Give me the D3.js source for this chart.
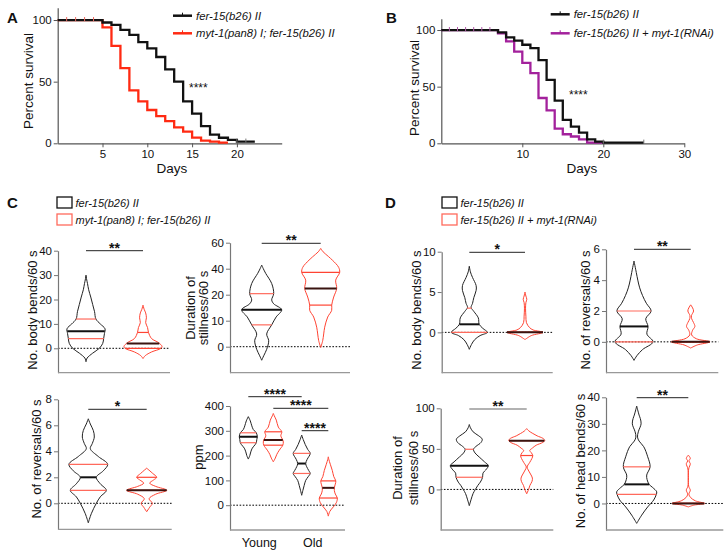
<!DOCTYPE html>
<html><head><meta charset="utf-8">
<script src="https://cdn.jsdelivr.net/npm/d3@7"></script>
<style>body{margin:0;background:#fff} svg{display:block} text{font-family:"Liberation Sans",Arial,sans-serif;fill:#111}</style>
</head><body><svg id="c" width="727" height="555"></svg>
<script>
// ---------------- DATA ----------------
// Panel A survival (days, percent survival)
const survA_days_ctrl = [0,5,6,7,8,9,10,11,12,13,14,15,16,17,18,19,20,22];
const survA_ctrl      = [100,98,96,92,88,82,77,70,60,50,34,24,14,7,4.5,2.7,1.4,1.4];
const survA_days_myt  = [0,5,6,7,8,9,10,11,12,13,14,15,16,17,18,19];
const survA_myt       = [100,94,79,61,43,34,27,22,18,13,9.5,4.6,2.2,1.4,0.5,0.5];
const censorA_start = [1,2,3,4];
const censorA_tail  = [20,21];
// Panel B survival
const survB_days_ctrl = [0,7,8,9,10,11,12,13,14,15,16,17,18,19,20,25];
const survB_ctrl      = [100,98,93.5,90.6,87,84,73.5,56,37.6,20.6,14.7,9.4,3.5,1.5,0.6,0.6];
const survB_days_rnai = [0,7,8,9,10,11,12,13,14,15,16,17,18,20];
const survB_rnai      = [100,97,90,81,71,62,40,29,13,8,6,3.5,0.6,0.6];
const censorB_start = [1,2,3,4,5,6];
const censorB_tail  = [20,25];
const survTicksA = [5,10,15,20];
const survTicksB = [10,20,30];
const survYTicks = [0,50,100];

// Legends
const legendA = ["fer-15(b26) II","myt-1(pan8) I; fer-15(b26) II"];
const legendB = ["fer-15(b26) II","fer-15(b26) II + myt-1(RNAi)"];

// Violin profiles: [value, relative density]; stats: [q1, median, q3]
const vC1ctrl = [[-5.5,0],[-4,0.06],[-2,0.35],[0,0.7],[2,0.88],[4,0.93],[6,0.97],[8,1],[10,0.75],[12,0.52],[15,0.45],[18,0.35],[21,0.25],[24,0.14],[26.5,0.08],[28,0.04],[30,0]];
const vC1myt  = [[-4.2,0],[-3,0.12],[-1.5,0.45],[0,0.95],[0.8,1],[2.3,0.82],[4,0.45],[6.5,0.29],[8.5,0.24],[10.5,0.14],[12.5,0.18],[14.5,0.14],[16,0.06],[17.7,0]];
const sC1 = [[4,7,12],[0,2,6.5]];
const vC2ctrl = [[-5.2,0],[-3.5,0.1],[-1,0.25],[2.3,0.35],[4.9,0.25],[8.4,0.5],[11.4,0.72],[14.2,1],[16.5,0.6],[18,0.5],[20.4,0.6],[24.3,0.5],[28.2,0.2],[30,0.08],[31.4,0]];
const vC2myt  = [[-0.3,0],[2.3,0.1],[4.9,0.15],[7.5,0.2],[11.4,0.35],[14,0.55],[16,0.55],[19.1,0.65],[22.4,0.8],[25.6,0.75],[28.6,0.95],[30.5,0.9],[32,0.75],[34.6,0.4],[36.5,0.12],[37.8,0]];
const sC2 = [[8.4,14.2,20.4],[16,22.4,28.6]];
const vC3ctrl = [[-1.5,0],[-0.8,0.15],[0,0.4],[0.5,0.6],[1,0.9],[1.5,0.6],[2,0.4],[2.5,0.75],[3,0.97],[3.6,0.5],[4.2,0.1],[4.6,0.2],[5.1,0.3],[5.6,0.25],[6.1,0.1],[6.5,0]];
const vC3myt  = [[-0.65,0],[-0.3,0.15],[0,0.28],[0.35,0.12],[0.7,0.45],[1,1],[1.3,0.45],[1.55,0.15],[1.8,0.35],[2,0.5],[2.3,0.3],[2.7,0]];
const sC3 = [[1,2,3],[1,1,2]];
const vC4youngCtrl = [[186,0],[200,0.15],[215,0.25],[230,0.4],[245,0.7],[252,0.8],[265,0.85],[276,0.9],[292,0.8],[305,0.5],[320,0.35],[340,0.2],[357,0]];
const vC4youngMyt  = [[175,0],[190,0.2],[205,0.35],[222,0.6],[242,0.95],[255,1],[263,0.95],[280,0.75],[296,0.85],[315,0.5],[343,0.3],[360,0.1],[370,0]];
const vC4oldCtrl   = [[40,0],[60,0.12],[80,0.25],[100,0.4],[115,0.65],[128,0.85],[140,0.7],[155,0.5],[168,0.4],[185,0.55],[209,0.85],[225,0.6],[245,0.35],[265,0.15],[283,0]];
const vC4oldMyt    = [[-44,0],[-25,0.15],[-7,0.5],[10,0.8],[29,0.9],[45,0.7],[60,0.6],[70,0.6],[85,0.7],[98,0.75],[115,0.55],[140,0.4],[165,0.2],[185,0.05],[195,0]];
const sC4 = [[252,276,292],[242,263,296],[128,168,209],[29,70,98]];
const groupsC4 = ["Young","Old"];
const vD1ctrl = [[-2.1,0],[-1.5,0.12],[-0.9,0.3],[-0.4,0.6],[0,1],[0.5,0.75],[1,0.55],[1.8,0.5],[2.6,0.25],[3.1,0.1],[3.6,0.18],[4.3,0.25],[5.2,0.38],[5.8,0.38],[6.8,0.18],[7.5,0.06],[8.2,0]];
const vD1rnai = [[-0.9,0],[-0.4,0.35],[0,1],[0.3,0.45],[0.6,0.25],[1.2,0.08],[2,0.05],[3,0.03],[3.7,0.05],[4.1,0.1],[4.5,0.05],[5,0]];
const sD1 = [[0,1,3],[0,0,0]];
const vD2ctrl = [[-1.2,0],[-0.9,0.15],[-0.5,0.45],[0,1],[0.5,0.68],[1,0.74],[1.5,0.62],[2,0.9],[2.5,0.65],[3,0.45],[3.5,0.3],[4,0.2],[4.5,0.12],[5.24,0]];
const vD2rnai = [[-0.4,0],[-0.2,0.35],[0,1],[0.2,0.3],[0.45,0.05],[0.75,0.1],[1,0.22],[1.25,0.15],[1.5,0.05],[1.7,0.04],[2,0.15],[2.2,0.1],[2.4,0]];
const sD2 = [[0,1,2],[0,0,0]];
const vD3ctrl = [[-20,0],[-12,0.1],[-5,0.2],[0,0.32],[5,0.45],[9,0.58],[15,0.7],[20,0.72],[25,0.9],[29.3,1],[34,0.8],[40,0.52],[45,0.3],[49.5,0.22],[53,0.35],[58,0.62],[62,0.68],[66,0.5],[71,0.2],[76,0.06],[80,0]];
const vD3rnai = [[-5.4,0],[0,0.1],[5,0.17],[10,0.28],[14,0.3],[19,0.2],[24,0.08],[27.6,0.02],[33,0.15],[38,0.27],[41.8,0.32],[45,0.25],[48,0.16],[51,0.3],[54.5,0.5],[58,0.85],[60.5,0.95],[63,0.85],[66,0.55],[69,0.32],[72,0.12],[75,0]];
const sD3 = [[15,29.3,49.5],[41.8,60,60]];
const vD4ctrl = [[-7.5,0],[-4.4,0.25],[-1.3,0.55],[1.3,0.85],[3.4,0.98],[4.4,1],[6,0.8],[7.2,0.62],[9,0.52],[10.7,0.5],[13.8,0.67],[17.6,0.55],[21.4,0.35],[23.5,0.12],[25,0.04],[27,0.08],[30,0.22],[32,0.18],[33.3,0.12],[35.5,0.04],[36.7,0]];
const vD4rnai = [[-1.3,0],[-0.6,0.3],[0,0.8],[1,0.35],[2.2,0.12],[3.5,0.03],[5,0.1],[6.5,0.02],[13,0.02],[15,0.1],[16,0.03],[17,0.1],[18.2,0]];
const sD4 = [[3.4,7.2,13.8],[0,0,0]];

// tick values / labels
const ticksC1 = [0,10,20,30,40], labelsC1 = ["0","10","20","30","40"];
const ticksC2 = [0,10,20,30,40], labelsC2 = ["0","10","20","40","60"];
const ticksC3 = [0,2,4,6,8],     labelsC3 = ["0","2","4","6","8"];
const ticksC4 = [0,100,200,300,400], labelsC4 = ["0","100","200","300","400"];
const ticksD1 = [0,5,10],        labelsD1 = ["0","5","10"];
const ticksD2 = [0,2,4,6],       labelsD2 = ["0","2","4","6"];
const ticksD3 = [0,50,100],      labelsD3 = ["0","50","100"];
const ticksD4 = [0,10,20,30,40], labelsD4 = ["0","10","20","30","40"];

// ---------------- STYLE ----------------
const BLACK = "#111", RED = "#ff2a12", PURPLE = "#a3219c", VRED = "#ff4433", QRED = "#ff6a5c";
const svg = d3.select("#c");

function styleAxis(g, col) {
  g.select(".domain").attr("stroke", col).attr("stroke-width", 1.2);
  g.selectAll(".tick line").attr("stroke", col).attr("stroke-width", 1);
  g.selectAll(".tick text").attr("font-size", 11.5).attr("fill", "#111")
    .style("font-family", '"Liberation Sans",Arial,sans-serif');
}

function label(x, y, txt, opts = {}) {
  const t = svg.append("text").attr("x", x).attr("y", y).text(txt)
    .attr("font-size", opts.size || 13).attr("text-anchor", opts.anchor || "start");
  if (opts.bold) t.attr("font-weight", "bold");
  if (opts.italic) t.attr("font-style", "italic");
  return t;
}
function vlabel(x, cy, txt, size = 13) {
  svg.append("text").attr("transform", `translate(${x},${cy}) rotate(-90)`)
    .attr("text-anchor", "middle").attr("dominant-baseline", "central")
    .attr("font-size", size).text(txt);
}

// ---------------- SURVIVAL PANELS ----------------
function survPanel(cfg) {
  const x = d3.scaleLinear().domain(cfg.xDomain).range(cfg.xRange);
  const y = d3.scaleLinear().domain([0, 110]).range(cfg.yRange);
  const g = svg.append("g");
  const ax = g.append("g").attr("transform", `translate(0,${cfg.yRange[0]})`)
    .call(d3.axisBottom(x).tickValues(cfg.xTicks).tickSize(4).tickSizeOuter(0).tickPadding(3));
  styleAxis(ax, "#555");
  const ay = g.append("g").attr("transform", `translate(${cfg.xRange[0]},0)`)
    .call(d3.axisLeft(y).tickValues(survYTicks).tickSize(4).tickSizeOuter(0).tickPadding(2));
  styleAxis(ay, "#555");
  const line = d3.line().x(d => x(d[0])).y(d => y(d[1])).curve(d3.curveStepAfter);
  const survAt = (s, day) => { let v = s.surv[0]; s.days.forEach((d, i) => { if (d <= day) v = s.surv[i]; }); return v; };
  cfg.series.forEach(s => {
    g.append("path").datum(s.days.map((d, i) => [d, s.surv[i]])).attr("d", line)
      .attr("fill", "none").attr("stroke", s.color).attr("stroke-width", 2.3);
  });
  cfg.series.forEach(s => {
    (s.censor || []).forEach(d => {
      const yy = y(survAt(s, d));
      g.append("line").attr("x1", x(d)).attr("x2", x(d)).attr("y1", yy - 3).attr("y2", yy + 1)
        .attr("stroke", s.censorColor || s.color).attr("stroke-width", 1);
    });
  });
  cfg.legend.forEach((t, i) => {
    const s = cfg.series[cfg.legendOrder[i]];
    const ly = cfg.legendY[i];
    g.append("line").attr("x1", cfg.legendX).attr("x2", cfg.legendX + 19).attr("y1", ly).attr("y2", ly)
      .attr("stroke", s.color).attr("stroke-width", 2.5);
    g.append("line").attr("x1", cfg.legendX + 9.5).attr("x2", cfg.legendX + 9.5).attr("y1", ly - 3).attr("y2", ly)
      .attr("stroke", s.color).attr("stroke-width", 1);
    label(cfg.legendX + 23, ly + 4, t, { italic: true, size: 11.3 });
  });
  label(cfg.starX, cfg.starY, "****", { size: 12 });
  label(cfg.daysX, 172.5, "Days", { size: 13.5, anchor: "middle" });
  vlabel(cfg.ylabX, cfg.ylabY, "Percent survival", 13.5);
}

survPanel({
  xDomain: [0, 25], xRange: [57.7, 281.7], yRange: [143.3, 7.7], xTicks: survTicksA,
  series: [
    { days: survA_days_myt, surv: survA_myt, color: RED, censor: censorA_start, censorColor: "#f06a60" },
    { days: survA_days_ctrl, surv: survA_ctrl, color: BLACK, censor: censorA_tail, censorColor: "#777" }
  ],
  legend: legendA, legendOrder: [1, 0], legendX: 173, legendY: [15.7, 33.3],
  starX: 189, starY: 92, daysX: 172, ylabX: 28, ylabY: 81
});
survPanel({
  xDomain: [0, 30], xRange: [441.3, 684.3], yRange: [143.3, 18.7], xTicks: survTicksB,
  series: [
    { days: survB_days_rnai, surv: survB_rnai, color: PURPLE, censor: censorB_start, censorColor: "#b05aa8" },
    { days: survB_days_ctrl, surv: survB_ctrl, color: BLACK, censor: censorB_tail, censorColor: "#777" }
  ],
  legend: legendB, legendOrder: [1, 0], legendX: 550.7, legendY: [14.3, 33.3],
  starX: 569, starY: 99, daysX: 582, ylabX: 414, ylabY: 88
});

// ---------------- VIOLIN PANELS ----------------
function densAt(profile, v) {
  for (let i = 1; i < profile.length; i++) {
    const a = profile[i - 1], b = profile[i];
    if (v >= a[0] && v <= b[0]) return a[1] + (b[1] - a[1]) * (v - a[0]) / (b[0] - a[0]);
  }
  return 0;
}
function violinPanel(p) {
  const y = d3.scaleLinear().domain(p.yDomain).range(p.yRange);
  const w = d3.scaleLinear().domain([0, 1]).range([0, p.maxHalf]);
  const g = svg.append("g");
  g.append("line").attr("x1", p.axisX).attr("x2", p.xEnd).attr("y1", y(0)).attr("y2", y(0))
    .attr("stroke", "#000").attr("stroke-width", 1).attr("stroke-dasharray", "1.6,1.6");
  const ay = g.append("g").attr("transform", `translate(${p.axisX},0)`)
    .call(d3.axisLeft(y).tickValues(p.ticks).tickFormat((d, i) => p.tickLabels[i]).tickSize(4).tickSizeOuter(0).tickPadding(2));
  styleAxis(ay, "#777");
  g.append("line").attr("x1", p.axisX).attr("x2", p.xEnd).attr("y1", p.yRange[0]).attr("y2", p.yRange[0])
    .attr("stroke", "#999").attr("stroke-width", 1.3);
  p.violins.forEach((prof, i) => {
    const cx = p.centers[i];
    const col = p.colors[i];
    const area = d3.area().y(d => y(d[0])).x0(d => cx - w(d[1])).x1(d => cx + w(d[1]))
      .curve(d3.curveCatmullRom.alpha(0.5));
    g.append("path").attr("d", area(prof)).attr("fill", "none").attr("stroke", col === "k" ? "#222" : VRED)
      .attr("stroke-width", 1);
    const [q1, med, q3] = p.stats[i];
    [q1, q3].forEach(q => {
      const hw = w(densAt(prof, q));
      g.append("line").attr("x1", cx - hw).attr("x2", cx + hw).attr("y1", y(q)).attr("y2", y(q))
        .attr("stroke", col === "k" ? QRED : VRED).attr("stroke-width", 1.2);
    });
    const hm = w(densAt(prof, med));
    g.append("line").attr("x1", cx - hm).attr("x2", cx + hm).attr("y1", y(med)).attr("y2", y(med))
      .attr("stroke", col === "k" ? "#111" : "#3a1410").attr("stroke-width", 2);
  });
  p.brackets.forEach(b => {
    const x1 = p.centers[b.from], x2 = p.centers[b.to];
    g.append("line").attr("x1", x1).attr("x2", x2).attr("y1", b.y).attr("y2", b.y)
      .attr("stroke", b.grey ? "#999" : "#222").attr("stroke-width", b.grey ? 1.6 : 1);
    label((x1 + x2) / 2, b.y + 2, b.text, { size: 14, bold: true, anchor: "middle" });
  });
  vlabel(p.ylabX, p.ylabY, p.ylab, 13);
  if (p.ylab2) vlabel(p.ylabX2, p.ylabY, p.ylab2, 13);
}

violinPanel({ axisX: 58, yDomain: [-10, 40], yRange: [372.7, 250.7], xEnd: 170, ticks: ticksC1, tickLabels: labelsC1,
  centers: [86, 143], maxHalf: 19, violins: [vC1ctrl, vC1myt], stats: sC1, colors: ["k", "r"],
  brackets: [{ from: 0, to: 1, y: 250.7, text: "**" }], ylab: "No. body bends/60 s", ylabX: 32, ylabY: 310 });
violinPanel({ axisX: 230, yDomain: [-10, 40], yRange: [372.7, 242.7], xEnd: 350, ticks: ticksC2, tickLabels: labelsC2,
  centers: [261.7, 320.7], maxHalf: 20, violins: [vC2ctrl, vC2myt], stats: sC2, colors: ["k", "r"],
  brackets: [{ from: 0, to: 1, y: 243.3, text: "**" }], ylab: "Duration of", ylab2: "stillness/60 s", ylabX: 190.5, ylabX2: 203, ylabY: 308 });
violinPanel({ axisX: 58, yDomain: [-2, 8], yRange: [529.3, 399.3], xEnd: 171.7, ticks: ticksC3, tickLabels: labelsC3,
  centers: [88.3, 146.7], maxHalf: 20, violins: [vC3ctrl, vC3myt], stats: sC3, colors: ["k", "r"],
  brackets: [{ from: 0, to: 1, y: 409.3, text: "*" }], ylab: "No. of reversals/60 s", ylabX: 36.5, ylabY: 459 });
violinPanel({ axisX: 230, yDomain: [-100, 400], yRange: [530, 406], xEnd: 345, ticks: ticksC4, tickLabels: labelsC4,
  centers: [248.3, 273.3, 301.7, 328.3], maxHalf: 10, violins: [vC4youngCtrl, vC4youngMyt, vC4oldCtrl, vC4oldMyt], stats: sC4,
  colors: ["k", "r", "k", "r"],
  brackets: [{ from: 0, to: 2, y: 396.7, text: "****" }, { from: 1, to: 3, y: 408.3, text: "****" }, { from: 2, to: 3, y: 430.7, text: "****" }],
  ylab: "ppm", ylabX: 198, ylabY: 457 });
label(259.3, 547, groupsC4[0], { size: 12.5, anchor: "middle" });
label(312.7, 547, groupsC4[1], { size: 12.5, anchor: "middle" });

violinPanel({ axisX: 441.7, yDomain: [-5, 10], yRange: [372.7, 251.7], xEnd: 552.7, ticks: ticksD1, tickLabels: labelsD1,
  centers: [469.3, 525], maxHalf: 18, violins: [vD1ctrl, vD1rnai], stats: sD1, colors: ["k", "r"],
  brackets: [{ from: 0, to: 1, y: 252.3, text: "*" }], ylab: "No. body bends/60 s", ylabX: 416.7, ylabY: 310 });
violinPanel({ axisX: 606, yDomain: [-2, 6], yRange: [372.7, 249.3], xEnd: 718.3, ticks: ticksD2, tickLabels: labelsD2,
  centers: [634, 690.7], maxHalf: 19, violins: [vD2ctrl, vD2rnai], stats: sD2, colors: ["k", "r"],
  brackets: [{ from: 0, to: 1, y: 249.3, text: "**" }], ylab: "No. of reversals/60 s", ylabX: 585, ylabY: 310 });
violinPanel({ axisX: 440.7, yDomain: [-50, 100], yRange: [530, 408.3], xEnd: 553.3, ticks: ticksD3, tickLabels: labelsD3,
  centers: [469.3, 526.7], maxHalf: 19, violins: [vD3ctrl, vD3rnai], stats: sD3, colors: ["k", "r"],
  brackets: [{ from: 0, to: 1, y: 409, text: "**", grey: true }], ylab: "Duration of", ylab2: "stillness/60 s", ylabX: 397.5, ylabX2: 413.5, ylabY: 468 });
violinPanel({ axisX: 606, yDomain: [-10, 40], yRange: [530, 397.3], xEnd: 723.3, ticks: ticksD4, tickLabels: labelsD4,
  centers: [636.7, 688.3], maxHalf: 20, violins: [vD4ctrl, vD4rnai], stats: sD4, colors: ["k", "r"],
  brackets: [{ from: 0, to: 1, y: 397.7, text: "**" }], ylab: "No. of head bends/60 s", ylabX: 580, ylabY: 461 });

// ---------------- LEGENDS C / D ----------------
const legendC = ["fer-15(b26) II", "myt-1(pan8) I; fer-15(b26) II"];
const legendD = ["fer-15(b26) II", "fer-15(b26) II + myt-1(RNAi)"];
function boxLegend(x, items) {
  items.forEach((t, i) => {
    const y0 = 197 + i * 17;
    svg.append("rect").attr("x", x).attr("y", y0).attr("width", 15).attr("height", 11)
      .attr("fill", "none").attr("stroke", i === 0 ? "#111" : QRED).attr("stroke-width", 1.3);
    label(x + 18.5, y0 + 10, t, { italic: true, size: 11 });
  });
}
boxLegend(57, legendC);
boxLegend(442, legendD);

// panel letters
label(7, 23, "A", { size: 15, bold: true });
label(386, 23, "B", { size: 15, bold: true });
label(7, 208, "C", { size: 15, bold: true });
label(385, 208, "D", { size: 15, bold: true });
</script></body></html>
